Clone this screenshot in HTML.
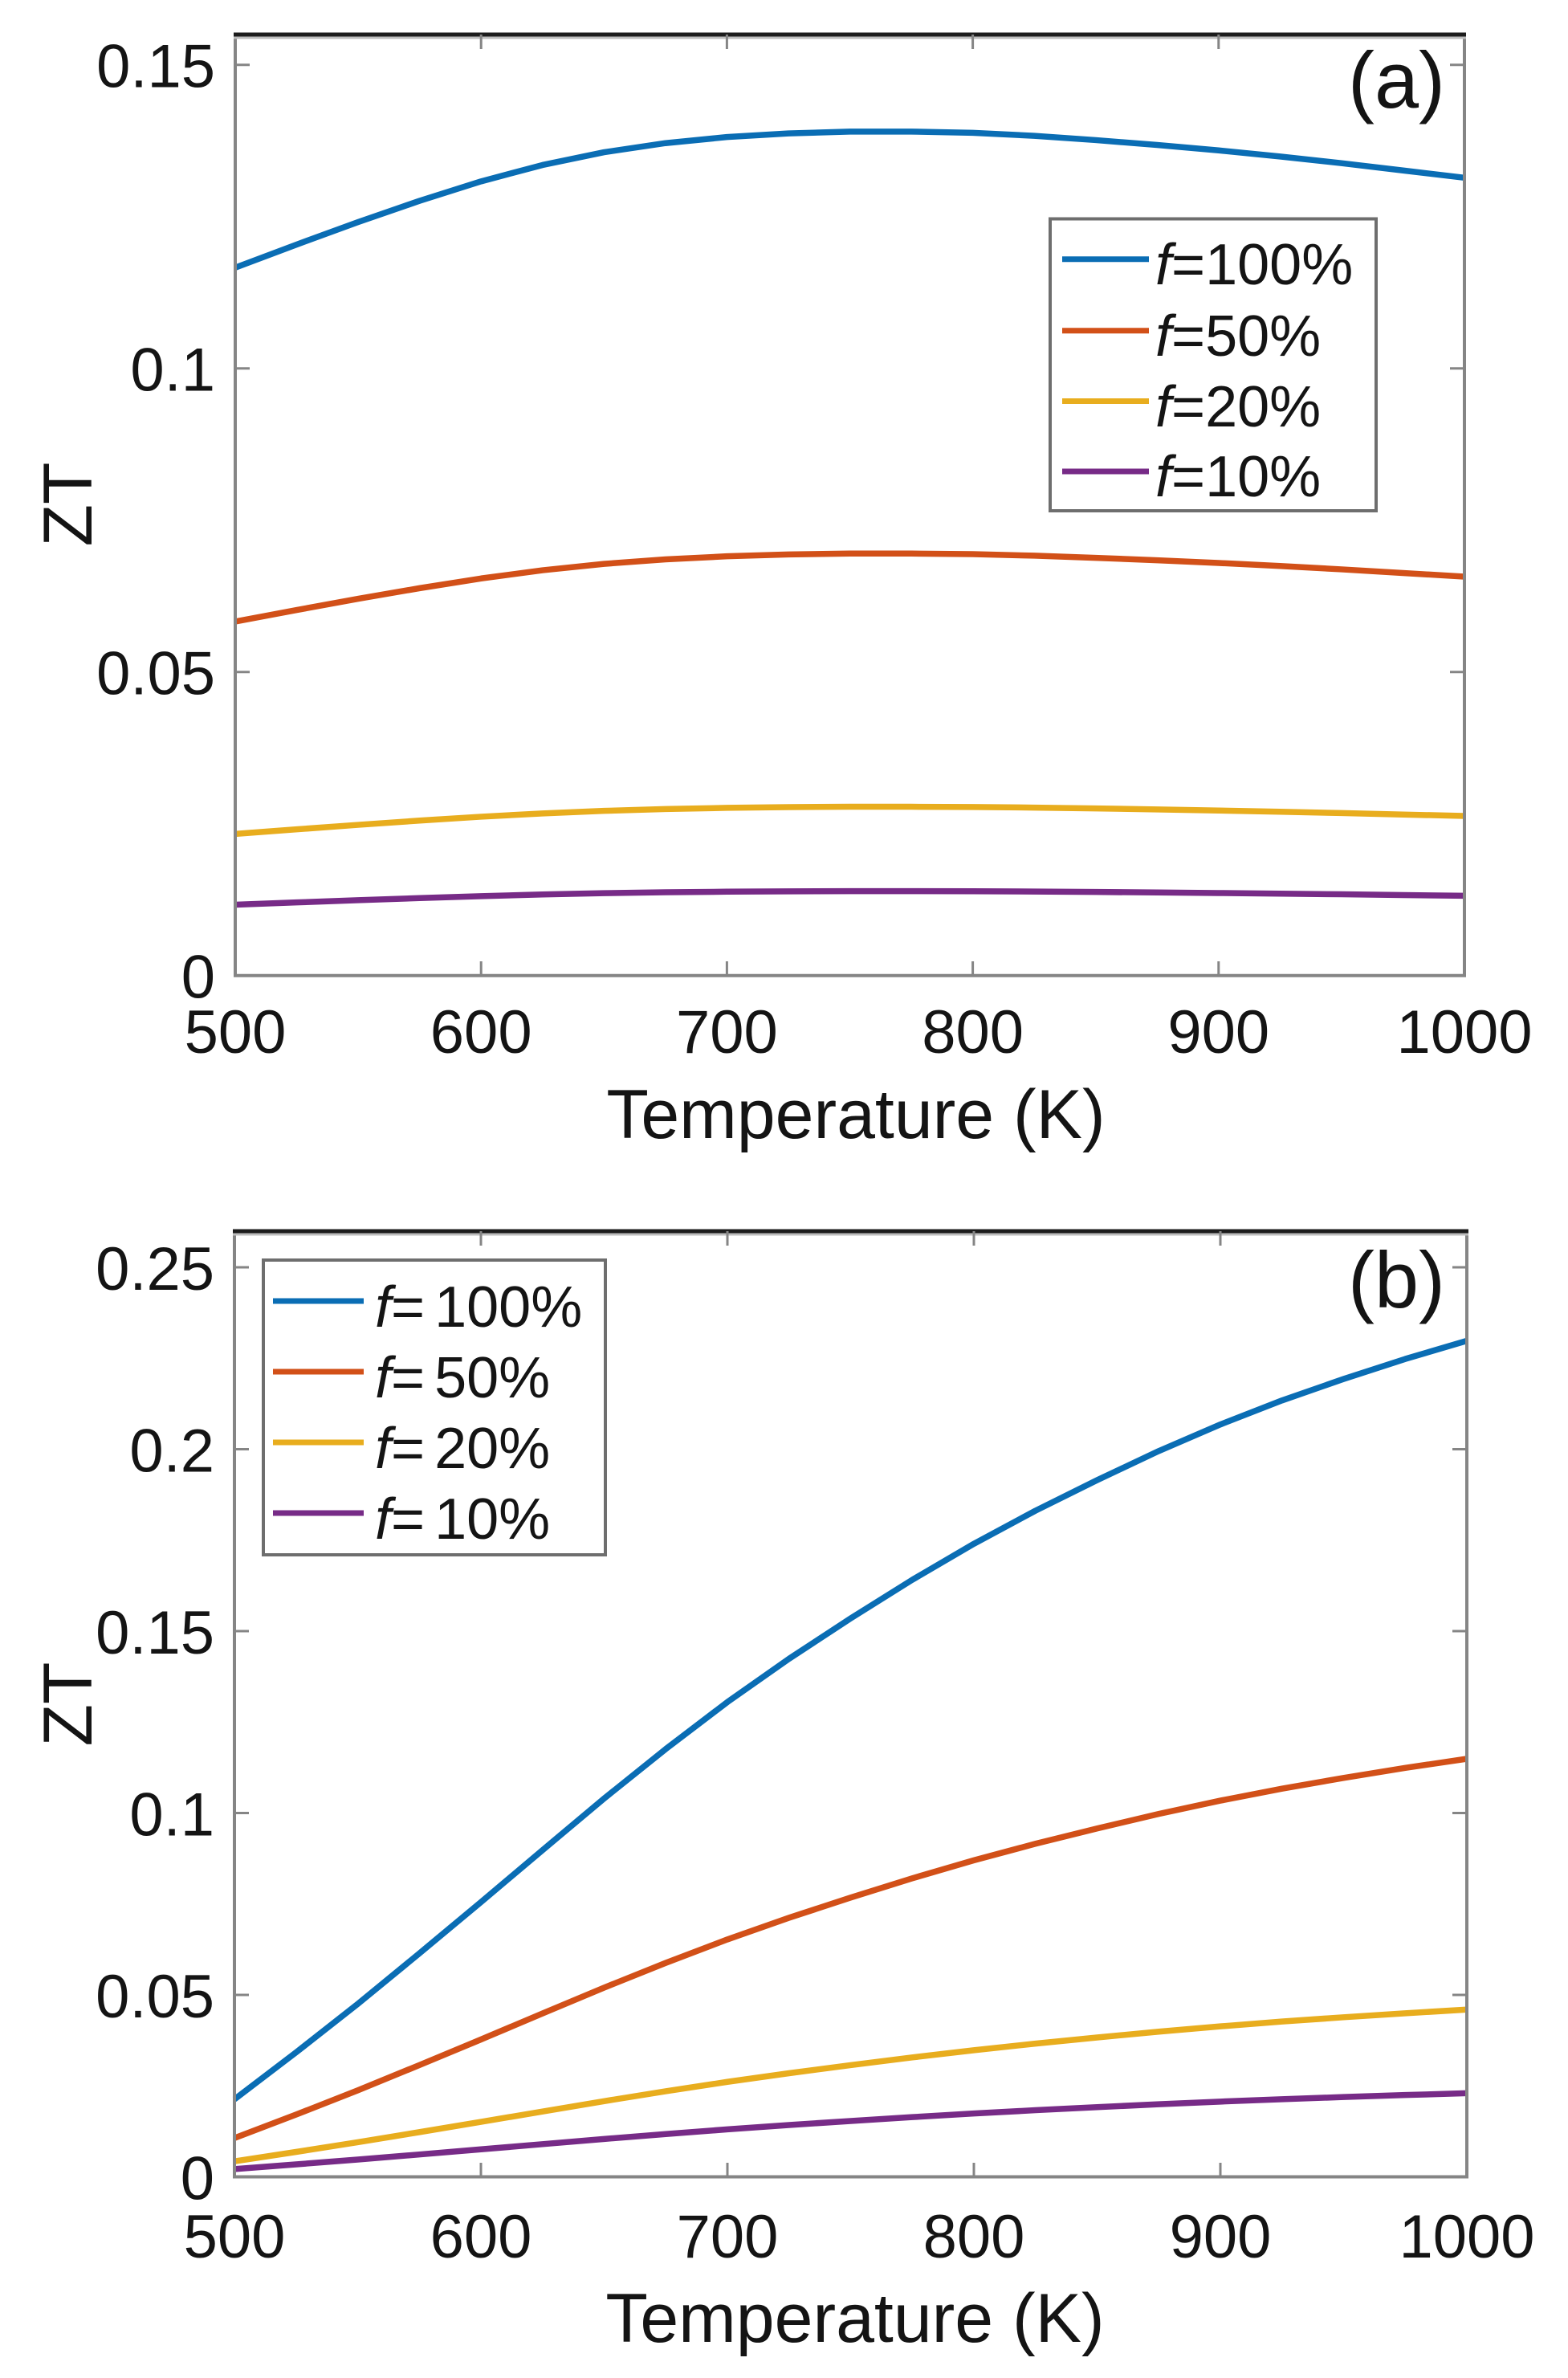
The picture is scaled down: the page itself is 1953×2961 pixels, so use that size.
<!DOCTYPE html>
<html>
<head>
<meta charset="utf-8">
<style>
  html, body { margin: 0; padding: 0; background: #ffffff; }
  svg { display: block; }
  text { font-family: "Liberation Sans", Arial, Helvetica, sans-serif; fill: #141414; }
</style>
</head>
<body>
<svg width="1953" height="2961" viewBox="0 0 1953 2961" xmlns="http://www.w3.org/2000/svg">
  <rect x="0" y="0" width="1953" height="2961" fill="#ffffff"/>

  <!-- ================= PANEL (a) ================= -->
  <g>
    <g transform="translate(293,1214.7) scale(3.062,-7560)" fill="none" stroke-linejoin="round" stroke-linecap="butt">
      <path vector-effect="non-scaling-stroke" stroke="#0a6db4" stroke-width="7.5"
        d="M0 .1166 L25 .1204 L50 .1241 L75 .1276 L100 .1308 L125 .1335 L150 .1356 L175 .1371 L200 .1381 L225 .1387 L250 .1390 L275 .1390 L300 .1388 L325 .1383 L350 .1376 L375 .1368 L400 .1359 L425 .1349 L450 .1338 L475 .1326 L500 .1314"/>
      <g transform="scale(1,0.5)">
        <path vector-effect="non-scaling-stroke" stroke="#d25018" stroke-width="7.5"
          d="M0 .1166 L25 .1204 L50 .1241 L75 .1276 L100 .1308 L125 .1335 L150 .1356 L175 .1371 L200 .1381 L225 .1387 L250 .1390 L275 .1390 L300 .1388 L325 .1383 L350 .1376 L375 .1368 L400 .1359 L425 .1349 L450 .1338 L475 .1326 L500 .1314"/>
      </g>
      <g transform="scale(1,0.2)">
        <path vector-effect="non-scaling-stroke" stroke="#e8ad1e" stroke-width="7.5"
          d="M0 .1166 L25 .1204 L50 .1241 L75 .1276 L100 .1308 L125 .1335 L150 .1356 L175 .1371 L200 .1381 L225 .1387 L250 .1390 L275 .1390 L300 .1388 L325 .1383 L350 .1376 L375 .1368 L400 .1359 L425 .1349 L450 .1338 L475 .1326 L500 .1314"/>
      </g>
      <g transform="scale(1,0.1)">
        <path vector-effect="non-scaling-stroke" stroke="#772b87" stroke-width="7.5"
          d="M0 .1166 L25 .1204 L50 .1241 L75 .1276 L100 .1308 L125 .1335 L150 .1356 L175 .1371 L200 .1381 L225 .1387 L250 .1390 L275 .1390 L300 .1388 L325 .1383 L350 .1376 L375 .1368 L400 .1359 L425 .1349 L450 .1338 L475 .1326 L500 .1314"/>
      </g>
    </g>

    <g stroke="#858585" stroke-width="4" fill="none">
      <line x1="293" y1="43" x2="293" y2="1216"/>
      <line x1="1824" y1="43" x2="1824" y2="1216"/>
      <line x1="291" y1="1214.7" x2="1826" y2="1214.7"/>
      <line x1="291" y1="47" x2="1826" y2="47" stroke="#bdbdbd" stroke-width="3"/>
    </g>
    <line x1="291" y1="43" x2="1826" y2="43" stroke="#1c1c1c" stroke-width="5"/>

    <g stroke="#858585" stroke-width="3">
      <line x1="293" y1="80.7" x2="311" y2="80.7"/>
      <line x1="293" y1="458.7" x2="311" y2="458.7"/>
      <line x1="293" y1="836.7" x2="311" y2="836.7"/>
      <line x1="1824" y1="80.7" x2="1806" y2="80.7"/>
      <line x1="1824" y1="458.7" x2="1806" y2="458.7"/>
      <line x1="1824" y1="836.7" x2="1806" y2="836.7"/>
      <line x1="599.2" y1="1214.7" x2="599.2" y2="1197"/>
      <line x1="905.4" y1="1214.7" x2="905.4" y2="1197"/>
      <line x1="1211.6" y1="1214.7" x2="1211.6" y2="1197"/>
      <line x1="1517.8" y1="1214.7" x2="1517.8" y2="1197"/>
      <line x1="599.2" y1="43" x2="599.2" y2="61"/>
      <line x1="905.4" y1="43" x2="905.4" y2="61"/>
      <line x1="1211.6" y1="43" x2="1211.6" y2="61"/>
      <line x1="1517.8" y1="43" x2="1517.8" y2="61"/>
    </g>

    <g font-size="76" text-anchor="end">
      <text x="268" y="108.5">0.15</text>
      <text x="268" y="486.5">0.1</text>
      <text x="268" y="864.5">0.05</text>
      <text x="268" y="1242.5">0</text>
    </g>
    <g font-size="76" text-anchor="middle">
      <text x="293" y="1311">500</text>
      <text x="599.2" y="1311">600</text>
      <text x="905.4" y="1311">700</text>
      <text x="1211.6" y="1311">800</text>
      <text x="1517.8" y="1311">900</text>
      <text x="1824" y="1311">1000</text>
    </g>

    <text x="1066" y="1417" font-size="86" text-anchor="middle">Temperature (K)</text>
    <text transform="translate(114,628) rotate(-90)" font-size="86" text-anchor="middle">ZT</text>

    <text x="1679" y="134" font-size="99">(a)</text>

    <rect x="1308" y="272.5" width="406" height="363.5" fill="#ffffff" stroke="#6e6e6e" stroke-width="4"/>
    <g stroke-width="7">
      <line x1="1323" y1="322.7" x2="1431" y2="322.7" stroke="#0a6db4"/>
      <line x1="1323" y1="411.7" x2="1431" y2="411.7" stroke="#d25018"/>
      <line x1="1323" y1="499.5" x2="1431" y2="499.5" stroke="#e8ad1e"/>
      <line x1="1323" y1="587" x2="1431" y2="587" stroke="#772b87"/>
    </g>
    <g font-size="72">
      <text x="1439" y="354"><tspan font-style="italic">f</tspan>=100%</text>
      <text x="1439" y="443"><tspan font-style="italic">f</tspan>=50%</text>
      <text x="1439" y="531"><tspan font-style="italic">f</tspan>=20%</text>
      <text x="1439" y="618"><tspan font-style="italic">f</tspan>=10%</text>
    </g>
  </g>

  <!-- ================= PANEL (b) ================= -->
  <g>
    <g transform="translate(292,2710.5) scale(3.07,-4530)" fill="none" stroke-linejoin="round">
      <path vector-effect="non-scaling-stroke" stroke="#0a6db4" stroke-width="7.5"
        d="M0 .0213 L25 .0342 L50 .0475 L75 .0614 L100 .0755 L125 .0898 L150 .1040 L175 .1176 L200 .1305 L225 .1424 L250 .1535 L275 .1641 L300 .1740 L325 .1831 L350 .1915 L375 .1995 L400 .2068 L425 .2134 L450 .2193 L475 .2248 L500 .2298"/>
      <g transform="scale(1,0.5)">
        <path vector-effect="non-scaling-stroke" stroke="#d25018" stroke-width="7.5"
          d="M0 .0213 L25 .0342 L50 .0475 L75 .0614 L100 .0755 L125 .0898 L150 .1040 L175 .1176 L200 .1305 L225 .1424 L250 .1535 L275 .1641 L300 .1740 L325 .1831 L350 .1915 L375 .1995 L400 .2068 L425 .2134 L450 .2193 L475 .2248 L500 .2298"/>
      </g>
      <g transform="scale(1,0.2)">
        <path vector-effect="non-scaling-stroke" stroke="#e8ad1e" stroke-width="7.5"
          d="M0 .0213 L25 .0342 L50 .0475 L75 .0614 L100 .0755 L125 .0898 L150 .1040 L175 .1176 L200 .1305 L225 .1424 L250 .1535 L275 .1641 L300 .1740 L325 .1831 L350 .1915 L375 .1995 L400 .2068 L425 .2134 L450 .2193 L475 .2248 L500 .2298"/>
      </g>
      <g transform="scale(1,0.1)">
        <path vector-effect="non-scaling-stroke" stroke="#772b87" stroke-width="7.5"
          d="M0 .0213 L25 .0342 L50 .0475 L75 .0614 L100 .0755 L125 .0898 L150 .1040 L175 .1176 L200 .1305 L225 .1424 L250 .1535 L275 .1641 L300 .1740 L325 .1831 L350 .1915 L375 .1995 L400 .2068 L425 .2134 L450 .2193 L475 .2248 L500 .2298"/>
      </g>
    </g>

    <g stroke="#858585" stroke-width="4" fill="none">
      <line x1="292" y1="1533" x2="292" y2="2712"/>
      <line x1="1827" y1="1533" x2="1827" y2="2712"/>
      <line x1="290" y1="2710.5" x2="1829" y2="2710.5"/>
      <line x1="290" y1="1537" x2="1829" y2="1537" stroke="#bdbdbd" stroke-width="3"/>
    </g>
    <line x1="290" y1="1533" x2="1829" y2="1533" stroke="#1c1c1c" stroke-width="5"/>

    <g stroke="#858585" stroke-width="3">
      <line x1="292" y1="1578" x2="310" y2="1578"/>
      <line x1="292" y1="1804.5" x2="310" y2="1804.5"/>
      <line x1="292" y1="2031" x2="310" y2="2031"/>
      <line x1="292" y1="2257.5" x2="310" y2="2257.5"/>
      <line x1="292" y1="2484" x2="310" y2="2484"/>
      <line x1="1827" y1="1578" x2="1809" y2="1578"/>
      <line x1="1827" y1="1804.5" x2="1809" y2="1804.5"/>
      <line x1="1827" y1="2031" x2="1809" y2="2031"/>
      <line x1="1827" y1="2257.5" x2="1809" y2="2257.5"/>
      <line x1="1827" y1="2484" x2="1809" y2="2484"/>
      <line x1="599" y1="2710.5" x2="599" y2="2693"/>
      <line x1="906" y1="2710.5" x2="906" y2="2693"/>
      <line x1="1213" y1="2710.5" x2="1213" y2="2693"/>
      <line x1="1520" y1="2710.5" x2="1520" y2="2693"/>
      <line x1="599" y1="1533" x2="599" y2="1551"/>
      <line x1="906" y1="1533" x2="906" y2="1551"/>
      <line x1="1213" y1="1533" x2="1213" y2="1551"/>
      <line x1="1520" y1="1533" x2="1520" y2="1551"/>
    </g>

    <g font-size="76" text-anchor="end">
      <text x="267" y="1606">0.25</text>
      <text x="267" y="1832.5">0.2</text>
      <text x="267" y="2059">0.15</text>
      <text x="267" y="2285.5">0.1</text>
      <text x="267" y="2512">0.05</text>
      <text x="267" y="2738.5">0</text>
    </g>
    <g font-size="76" text-anchor="middle">
      <text x="292" y="2811">500</text>
      <text x="599" y="2811">600</text>
      <text x="906" y="2811">700</text>
      <text x="1213" y="2811">800</text>
      <text x="1520" y="2811">900</text>
      <text x="1827" y="2811">1000</text>
    </g>

    <text x="1065" y="2916" font-size="86" text-anchor="middle">Temperature (K)</text>
    <text transform="translate(114,2122) rotate(-90)" font-size="86" text-anchor="middle">ZT</text>

    <text x="1679" y="1628" font-size="99">(b)</text>

    <rect x="328" y="1569" width="426" height="367" fill="#ffffff" stroke="#6e6e6e" stroke-width="4"/>
    <g stroke-width="7">
      <line x1="340" y1="1620" x2="453" y2="1620" stroke="#0a6db4"/>
      <line x1="340" y1="1708" x2="453" y2="1708" stroke="#d25018"/>
      <line x1="340" y1="1796" x2="453" y2="1796" stroke="#e8ad1e"/>
      <line x1="340" y1="1884" x2="453" y2="1884" stroke="#772b87"/>
    </g>
    <g font-size="72">
      <text x="467" y="1652"><tspan font-style="italic">f</tspan>=<tspan dx="12">100%</tspan></text>
      <text x="467" y="1740"><tspan font-style="italic">f</tspan>=<tspan dx="12">50%</tspan></text>
      <text x="467" y="1828"><tspan font-style="italic">f</tspan>=<tspan dx="12">20%</tspan></text>
      <text x="467" y="1916"><tspan font-style="italic">f</tspan>=<tspan dx="12">10%</tspan></text>
    </g>
  </g>
</svg>
</body>
</html>
